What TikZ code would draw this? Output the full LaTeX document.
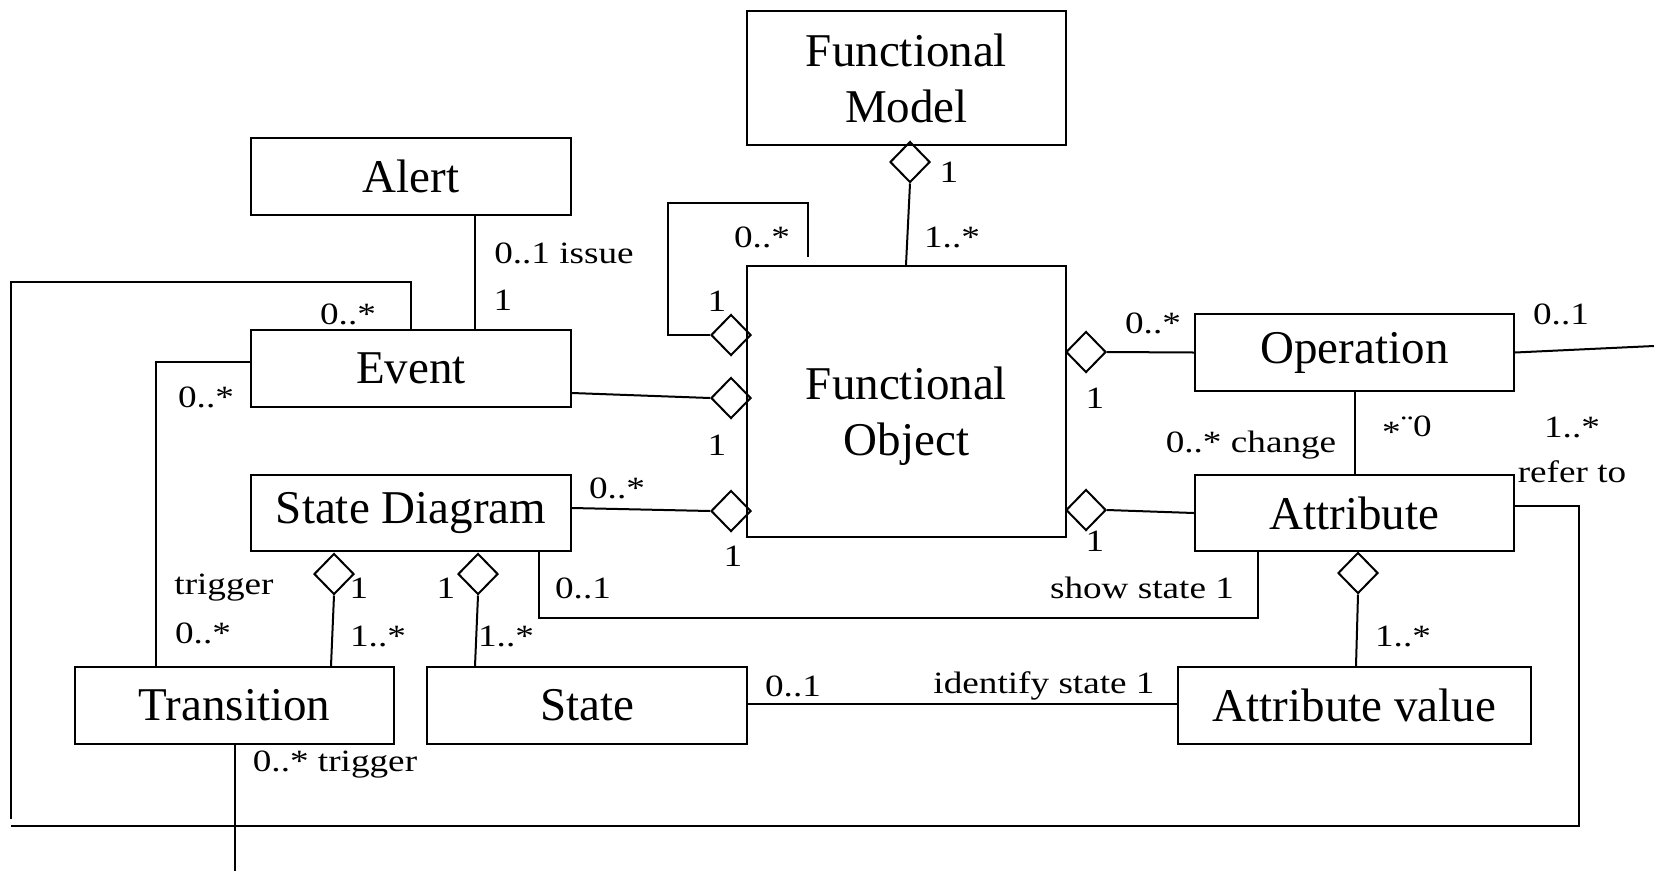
\documentclass[tikz,border=0pt]{standalone}
\usepackage{fontspec}
\setmainfont{Liberation Serif}
\newfontfamily\lblfont{Liberation Serif}[FakeStretch=1.2]
\usetikzlibrary{shapes.geometric}
\begin{document}
\begin{tikzpicture}[x=1pt,y=-1pt,line width=2pt,
  cls/.style={draw,inner sep=0pt,font=\fontsize{47}{56}\selectfont,align=center},
  clstext/.style={inner sep=0pt,font=\fontsize{47}{56}\selectfont,align=center},
  agg/.style={draw,shape=diamond,inner sep=0pt,minimum width=40pt,minimum height=41pt},
  lbl/.style={inner sep=0pt,font=\lblfont\fontsize{31}{36}\selectfont}]
\useasboundingbox (0,0) rectangle (1654,871);

% classes
\node[cls,minimum width=319pt,minimum height=134pt] (fm) at (906.5,78) {Functional\\Model};
\node[cls,minimum width=320pt,minimum height=77pt] (alert) at (411,176.5) {Alert};
\node[cls,minimum width=320pt,minimum height=77pt] (event) at (411,368.5) {Event};
\node[cls,minimum width=319pt,minimum height=271pt] (fo) at (906.5,401.5) {};
\node[clstext] (fotext) at ([yshift=-15pt]fo.center) {Functional\\Object};
\node[cls,minimum width=319pt,minimum height=77pt] (op) at (1354.5,352.5) {Operation};
\node[cls,minimum width=319pt,minimum height=76pt] (attr) at (1354.5,513) {Attribute};
\node[cls,minimum width=320pt,minimum height=76pt] (sd) at (411,513) {State Diagram};
\node[cls,minimum width=319pt,minimum height=77pt] (tr) at (234.5,705.5) {Transition};
\node[cls,minimum width=320pt,minimum height=77pt] (st) at (587,705.5) {State};
\node[cls,minimum width=353pt,minimum height=77pt] (av) at (1354.5,705.5) {Attribute value};

% aggregation diamonds
\node[agg] (dFM) at (910,162) {};
\node[agg] (dLoop) at (731,335) {};
\node[agg] (dEv) at (731,398) {};
\node[agg] (dSD) at (731,511) {};
\node[agg] (dOp) at (1086,352) {};
\node[agg] (dAt) at (1086,510) {};
\node[agg] (dTr) at (334,574) {};
\node[agg] (dSt) at (478,574) {};
\node[agg] (dAV) at (1358,573) {};

% free ends
\coordinate (c1) at (11,819);
\coordinate (c2) at (11,826);
\coordinate (c3) at (1579,826);
\coordinate (c4) at (235,871);
\coordinate (c5) at (668,203);
\coordinate (c6) at (808,257);
\coordinate (c7) at (1654,346);
\coordinate (c8) at (1258,618);

% connectors
\draw ([xshift=64pt]alert.south) -- ([xshift=64pt]event.north);
\draw (event.north) -- ++(0,-47) -| (c1);
\draw ([yshift=7pt]attr.east) -| (c3) -- (c2);
\draw ([xshift=0.5pt]tr.south) -- (c4);
\draw ([xshift=-78.5pt]tr.north) |- ([yshift=6.5pt]event.west);
\draw (dLoop.west) -| (c5) -| (c6);
\draw ([yshift=-24.5pt]event.east) -- (dEv.west);
\draw ([yshift=5pt]sd.east) -- (dSD.west);
\draw (dFM.south) -- ([xshift=-0.5pt]fo.north);
\draw (dOp.east) -- (op.west);
\draw (dAt.east) -- (attr.west);
\draw (op.south) -- (attr.north);
\draw (op.east) -- (c7);
\draw (dTr.south) -- ([xshift=96.5pt]tr.north);
\draw (dSt.south) -- ([xshift=-112pt]st.north);
\draw ([xshift=128pt]sd.south) |- (c8) -- ([xshift=-96.5pt]attr.south);
\draw (dAV.south) -- ([xshift=1.5pt]av.north);
\draw ([yshift=1.5pt]st.east) -- ([yshift=1.5pt]av.west);

% labels
\node[lbl] (l1) at (949,172) {1};
\node[lbl] (l2) at (952,237) {1..*};
\node[lbl] (l3) at (762,237) {0..*};
\node[lbl] (l4) at (717,301) {1};
\node[lbl] (l5) at (717,445) {1};
\node[lbl] (l6) at (617,488) {0..*};
\node[lbl] (l7) at (733,556) {1};
\node[lbl] (l8) at (564,253) {0..1 issue};
\node[lbl] (l9) at (503,300) {1};
\node[lbl] (l10) at (348,314) {0..*};
\node[lbl] (l11) at (206,397) {0..*};
\node[lbl] (l12) at (224,588) {trigger};
\node[lbl] (l13) at (203,633) {0..*};
\node[lbl] (l14) at (359,588) {1};
\node[lbl] (l15) at (378,636) {1..*};
\node[lbl] (l16) at (446,588) {1};
\node[lbl] (l17) at (506,636) {1..*};
\node[lbl] (l18) at (583,588) {0..1};
\node[lbl] (l19) at (1142,588) {show state 1};
\node[lbl] (l20) at (793,686) {0..1};
\node[lbl] (l21) at (1044,686) {identify state 1};
\node[lbl] (l22) at (1403,636) {1..*};
\node[lbl] (l23) at (335,765) {0..* trigger};
\node[lbl] (l24) at (1153,323) {0..*};
\node[lbl] (l25) at (1095,398) {1};
\node[lbl] (l26) at (1095,541) {1};
\node[lbl] (l27) at (1251,445) {0..* change};
\node[lbl] (l28) at (1407,429) {\raisebox{-0.2em}{*}¨0};
\node[lbl] (l29) at (1561,314) {0..1};
\node[lbl] (l30) at (1572,427) {1..*};
\node[lbl] (l31) at (1572,472) {refer to};
\end{tikzpicture}
\end{document}
